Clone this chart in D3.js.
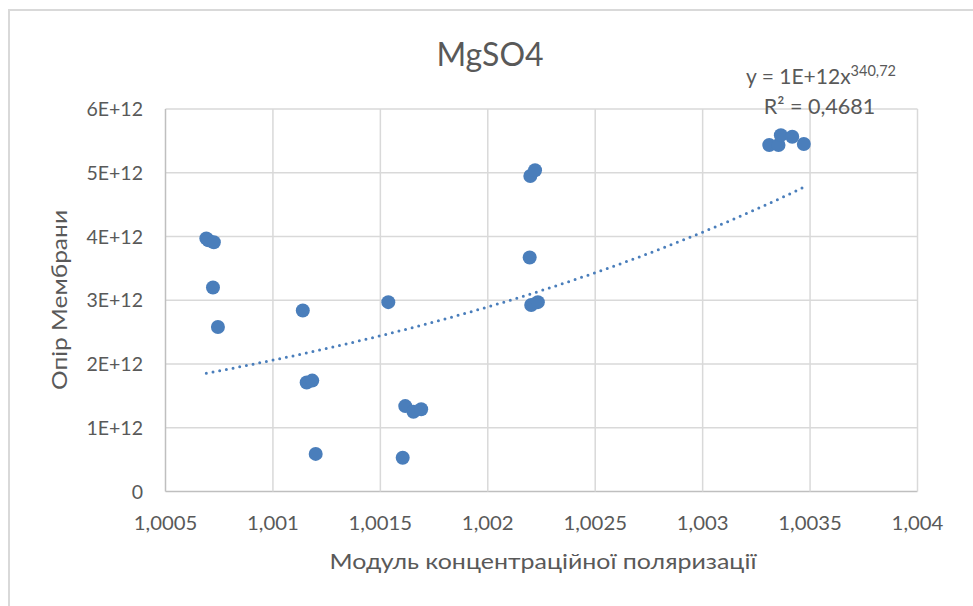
<!DOCTYPE html>
<html lang="uk">
<head>
<meta charset="utf-8">
<title>MgSO4</title>
<script src="https://cdn.jsdelivr.net/npm/d3@7"></script>
<style>
    body {margin: 0; background: #fff;}
    text {font-family: Lato, "Open Sans", sans-serif; fill: #595959;}
</style>
</head>
<body>
<script>
    // Модуль концентраційної поляризації
    const xValues = [1.000690, 1.000700, 1.000725, 1.000721, 1.000744, 1.001139, 1.001157, 1.001183,
                     1.001199, 1.001537, 1.001604, 1.001616, 1.001654, 1.001690, 1.002195, 1.002198,
                     1.002220, 1.002202, 1.002233, 1.003310, 1.003353, 1.003364, 1.003417, 1.003471];
    // Опір Мембрани
    const yValues = [3.97e12, 3.94e12, 3.91e12, 3.20e12, 2.58e12, 2.84e12, 1.71e12, 1.74e12,
                     0.59e12, 2.97e12, 0.53e12, 1.34e12, 1.25e12, 1.29e12, 3.67e12, 4.95e12,
                     5.04e12, 2.925e12, 2.97e12, 5.435e12, 5.435e12, 5.59e12, 5.565e12, 5.45e12];

    const xTicks = [1.0005, 1.001, 1.0015, 1.002, 1.0025, 1.003, 1.0035, 1.004];
    const yTicks = [0, 1e12, 2e12, 3e12, 4e12, 5e12, 6e12];
    const yTickLabels = ["0", "1E+12", "2E+12", "3E+12", "4E+12", "5E+12", "6E+12"];

    // power trendline y = a * x^b (b from the chart label)
    const trendA = 1.466e12;
    const trendB = 340.72;

    const width = 973, height = 606;
    const plot = {left: 165.5, right: 917.5, top: 109, bottom: 491.5};
    const blue = "#4a7ebb";

    const svg = d3.select("body").append("svg")
        .attr("width", width)
        .attr("height", height);

    // chart area border
    svg.append("rect")
        .attr("x", 9).attr("y", 10)
        .attr("width", width + 20).attr("height", height + 20)
        .attr("fill", "none")
        .attr("stroke", "#d9d9d9")
        .attr("stroke-width", 2);

    const x = d3.scaleLinear().domain([1.0005, 1.004]).range([plot.left, plot.right]);
    const y = d3.scaleLinear().domain([0, 6e12]).range([plot.bottom, plot.top]);

    const comma = d3.formatLocale({decimal: ",", thousands: " ", grouping: [3], currency: ["", ""]});
    const fmtX = comma.format(".4~f");
    // the original labels are a little wider than Lato
    const labelWidth = s => (s.length - 1) * 11.7 + 5;

    // grid
    svg.append("g")
        .selectAll("line")
        .data(yTicks)
        .join("line")
        .attr("x1", plot.left).attr("x2", plot.right)
        .attr("y1", d => y(d)).attr("y2", d => y(d))
        .attr("stroke", d => d === 0 ? "#bfbfbf" : "#d9d9d9")
        .attr("stroke-width", 1.5);

    svg.append("g")
        .selectAll("line")
        .data(xTicks)
        .join("line")
        .attr("x1", d => x(d)).attr("x2", d => x(d))
        .attr("y1", plot.top).attr("y2", plot.bottom)
        .attr("stroke", (d, i) => i === 0 ? "#bfbfbf" : "#d9d9d9")
        .attr("stroke-width", 1.5);

    // tick labels
    svg.append("g")
        .selectAll("text")
        .data(yTicks)
        .join("text")
        .attr("x", 143)
        .attr("y", d => y(d))
        .attr("dy", "0.36em")
        .attr("text-anchor", "end")
        .style("font-size", "19.5px")
        .text((d, i) => yTickLabels[i]);

    svg.append("g")
        .selectAll("text")
        .data(xTicks)
        .join("text")
        .attr("x", d => x(d))
        .attr("y", 530)
        .attr("text-anchor", "middle")
        .style("font-size", "19.5px")
        .attr("textLength", d => labelWidth(fmtX(d)))
        .attr("lengthAdjust", "spacingAndGlyphs")
        .text(d => fmtX(d));

    // trendline
    const [x0, x1] = d3.extent(xValues);
    const trendX = d3.range(0, 61).map(i => x0 + (x1 - x0) * i / 60);
    const line = d3.line()
        .x(d => x(d))
        .y(d => y(trendA * Math.pow(d, trendB)));

    svg.append("path")
        .datum(trendX)
        .attr("d", line)
        .attr("fill", "none")
        .attr("stroke", blue)
        .attr("stroke-width", 3)
        .attr("stroke-linecap", "round")
        .attr("stroke-dasharray", "0 6.8");

    // points
    svg.append("g")
        .selectAll("circle")
        .data(xValues)
        .join("circle")
        .attr("cx", d => x(d))
        .attr("cy", (d, i) => y(yValues[i]))
        .attr("r", 7)
        .attr("fill", blue);

    // titles
    svg.append("text")
        .attr("x", 490).attr("y", 65.5)
        .attr("text-anchor", "middle")
        .style("font-size", "32px")
        .text("MgSO4");

    svg.append("text")
        .attr("x", 543).attr("y", 569)
        .attr("text-anchor", "middle")
        .style("font-size", "21px")
        .attr("textLength", 427)
        .attr("lengthAdjust", "spacingAndGlyphs")
        .text("Модуль концентраційної поляризації");

    svg.append("text")
        .attr("transform", "translate(67,300) rotate(-90)")
        .attr("text-anchor", "middle")
        .style("font-size", "22px")
        .attr("textLength", 180)
        .attr("lengthAdjust", "spacingAndGlyphs")
        .text("Опір Мембрани");

    // trendline label
    const eq = svg.append("text")
        .attr("x", 821).attr("y", 83.5)
        .attr("text-anchor", "middle")
        .style("font-size", "21px");
    eq.append("tspan").text("y = 1E+12x");
    eq.append("tspan").attr("dy", -8).style("font-size", "14.5px").text("340,72");

    const r2 = svg.append("text")
        .attr("x", 819.5).attr("y", 113.5)
        .attr("text-anchor", "middle")
        .style("font-size", "21.5px");
    r2.append("tspan").text("R² = 0,4681");
</script>
</body>
</html>
